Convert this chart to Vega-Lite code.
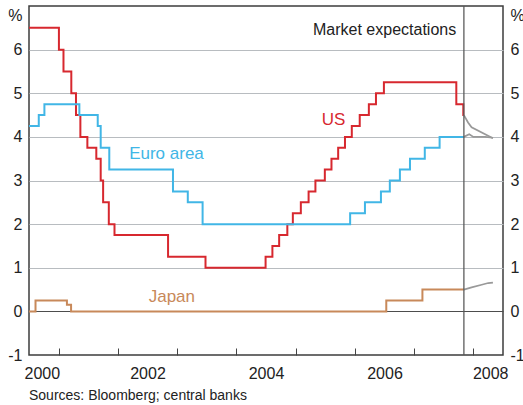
{
  "$schema": "https://vega.github.io/schema/vega-lite/v6.json",
  "width": 474,
  "height": 349,
  "autosize": {"type": "none"},
  "padding": {"left": 29, "top": 6, "right": 20, "bottom": 50},
  "background": "white",
  "config": {"font": "Liberation Sans", "view": {"stroke": "#3d3d3d", "strokeWidth": 1.5}},
  "title": {"text": "Sources: Bloomberg; central banks", "orient": "bottom", "anchor": "start", "frame": "group", "fontSize": 14, "fontWeight": "normal", "color": "#222", "offset": 8},
  "datasets": {
    "rates": [
      {"series": "US", "t": 2000.5, "v": 6.5},
      {"series": "US", "t": 2001.005, "v": 6.0},
      {"series": "US", "t": 2001.082, "v": 5.5},
      {"series": "US", "t": 2001.214, "v": 5.0},
      {"series": "US", "t": 2001.293, "v": 4.5},
      {"series": "US", "t": 2001.367, "v": 4.0},
      {"series": "US", "t": 2001.485, "v": 3.75},
      {"series": "US", "t": 2001.636, "v": 3.5},
      {"series": "US", "t": 2001.71, "v": 3.0},
      {"series": "US", "t": 2001.751, "v": 2.5},
      {"series": "US", "t": 2001.847, "v": 2.0},
      {"series": "US", "t": 2001.943, "v": 1.75},
      {"series": "US", "t": 2002.847, "v": 1.25},
      {"series": "US", "t": 2003.479, "v": 1.0},
      {"series": "US", "t": 2004.493, "v": 1.25},
      {"series": "US", "t": 2004.608, "v": 1.5},
      {"series": "US", "t": 2004.722, "v": 1.75},
      {"series": "US", "t": 2004.86, "v": 2.0},
      {"series": "US", "t": 2004.953, "v": 2.25},
      {"series": "US", "t": 2005.088, "v": 2.5},
      {"series": "US", "t": 2005.219, "v": 2.75},
      {"series": "US", "t": 2005.334, "v": 3.0},
      {"series": "US", "t": 2005.493, "v": 3.25},
      {"series": "US", "t": 2005.605, "v": 3.5},
      {"series": "US", "t": 2005.718, "v": 3.75},
      {"series": "US", "t": 2005.833, "v": 4.0},
      {"series": "US", "t": 2005.948, "v": 4.25},
      {"series": "US", "t": 2006.082, "v": 4.5},
      {"series": "US", "t": 2006.236, "v": 4.75},
      {"series": "US", "t": 2006.356, "v": 5.0},
      {"series": "US", "t": 2006.49, "v": 5.25},
      {"series": "US", "t": 2007.712, "v": 4.75},
      {"series": "US", "t": 2007.83, "v": 4.5},
      {"series": "US", "t": 2007.84, "v": 4.5},
      {"series": "Euro area", "t": 2000.5, "v": 4.25},
      {"series": "Euro area", "t": 2000.665, "v": 4.5},
      {"series": "Euro area", "t": 2000.76, "v": 4.75},
      {"series": "Euro area", "t": 2001.35, "v": 4.5},
      {"series": "Euro area", "t": 2001.66, "v": 4.25},
      {"series": "Euro area", "t": 2001.71, "v": 3.75},
      {"series": "Euro area", "t": 2001.855, "v": 3.25},
      {"series": "Euro area", "t": 2002.93, "v": 2.75},
      {"series": "Euro area", "t": 2003.18, "v": 2.5},
      {"series": "Euro area", "t": 2003.43, "v": 2.0},
      {"series": "Euro area", "t": 2005.92, "v": 2.25},
      {"series": "Euro area", "t": 2006.17, "v": 2.5},
      {"series": "Euro area", "t": 2006.44, "v": 2.75},
      {"series": "Euro area", "t": 2006.59, "v": 3.0},
      {"series": "Euro area", "t": 2006.76, "v": 3.25},
      {"series": "Euro area", "t": 2006.93, "v": 3.5},
      {"series": "Euro area", "t": 2007.18, "v": 3.75},
      {"series": "Euro area", "t": 2007.43, "v": 4.0},
      {"series": "Euro area", "t": 2007.84, "v": 4.0},
      {"series": "Japan", "t": 2000.5, "v": 0.0},
      {"series": "Japan", "t": 2000.61, "v": 0.25},
      {"series": "Japan", "t": 2001.14, "v": 0.15},
      {"series": "Japan", "t": 2001.21, "v": 0.0},
      {"series": "Japan", "t": 2006.53, "v": 0.25},
      {"series": "Japan", "t": 2007.14, "v": 0.5},
      {"series": "Japan", "t": 2007.84, "v": 0.5}
    ],
    "expect": [
      {"series": "US", "t": 2007.84, "v": 4.5},
      {"series": "US", "t": 2007.91, "v": 4.33},
      {"series": "US", "t": 2007.97, "v": 4.22},
      {"series": "US", "t": 2008.33, "v": 3.97},
      {"series": "Euro area", "t": 2007.84, "v": 4.0},
      {"series": "Euro area", "t": 2007.93, "v": 4.06},
      {"series": "Euro area", "t": 2008.0, "v": 4.0},
      {"series": "Euro area", "t": 2008.2, "v": 4.0},
      {"series": "Euro area", "t": 2008.33, "v": 3.98},
      {"series": "Japan", "t": 2007.84, "v": 0.5},
      {"series": "Japan", "t": 2007.97, "v": 0.55},
      {"series": "Japan", "t": 2008.14, "v": 0.61},
      {"series": "Japan", "t": 2008.25, "v": 0.65},
      {"series": "Japan", "t": 2008.33, "v": 0.66}
    ],
    "labels": [
      {"label": "US", "series": "US", "t": 2005.44, "v": 4.39},
      {"label": "Euro area", "series": "Euro area", "t": 2002.19, "v": 3.6},
      {"label": "Japan", "series": "Japan", "t": 2002.52, "v": 0.34}
    ],
    "notes": [{"label": "Market expectations", "t": 2007.71, "v": 6.45}],
    "start": [{"t": 2007.84}]
  },
  "encoding": {
    "x": {
      "field": "t", "type": "quantitative",
      "scale": {"domain": [2000.5, 2008.5], "nice": false, "zero": false},
      "axis": {
        "values": [2000.5, 2001, 2002, 2002.5, 2003, 2004, 2004.5, 2005, 2006, 2006.5, 2007, 2008, 2008.5],
        "title": null, "grid": false, "domain": false,
        "ticks": true, "tickSize": -7, "tickColor": "#444", "tickWidth": 1,
        "tickOpacity": {"condition": {"test": "datum.value % 1 != 0", "value": 0}, "value": 1},
        "labelExpr": "datum.value % 1 != 0 ? '' + floor(datum.value) : ''",
        "labelFlush": true, "labelFlushOffset": 5, "labelOverlap": false, "labelPadding": 17,
        "labelFontSize": 16, "labelColor": "#222"
      }
    }
  },
  "layer": [
    {
      "data": {"name": "rates"},
      "mark": {"type": "line", "interpolate": "step-after", "strokeWidth": 2},
      "encoding": {
        "y": {
          "field": "v", "type": "quantitative",
          "scale": {"domain": [-1, 7], "nice": false, "zero": false},
          "axis": {
            "orient": "left", "values": [-1, 0, 1, 2, 3, 4, 5, 6],
            "labelExpr": "'' + datum.value",
            "grid": true,
            "gridColor": {"condition": {"test": "datum.value === 0", "value": "#4d4d4d"}, "value": "#b8bcc0"},
            "gridOpacity": {"condition": {"test": "datum.value === -1", "value": 0}, "value": 1},
            "gridWidth": 1,
            "domain": false, "ticks": false, "labelPadding": 7,
            "labelFontSize": 16, "labelColor": "#222",
            "title": "%", "titleAngle": 0, "titleAlign": "right", "titleBaseline": "middle",
            "titleX": -7, "titleY": 9, "titleFontSize": 16, "titleFontWeight": "normal", "titleColor": "#222"
          }
        },
        "color": {
          "field": "series", "type": "nominal",
          "scale": {"domain": ["US", "Euro area", "Japan"], "range": ["#d7282f", "#41b6e6", "#c8895a"]},
          "legend": null
        }
      }
    },
    {
      "data": {"name": "expect"},
      "mark": {"type": "line", "strokeWidth": 1.75, "color": "#999999"},
      "encoding": {
        "y": {
          "field": "v", "type": "quantitative",
          "scale": {"domain": [-1, 7], "nice": false, "zero": false},
          "axis": {
            "orient": "right", "values": [-1, 0, 1, 2, 3, 4, 5, 6],
            "labelExpr": "'' + datum.value",
            "grid": false, "domain": false, "ticks": false, "labelPadding": 7,
            "labelFontSize": 16, "labelColor": "#222",
            "title": "%", "titleAngle": 0, "titleAlign": "left", "titleBaseline": "middle",
            "titleX": 7, "titleY": 9, "titleFontSize": 16, "titleFontWeight": "normal", "titleColor": "#222"
          }
        },
        "detail": {"field": "series", "type": "nominal"}
      }
    },
    {
      "data": {"name": "start"},
      "mark": {"type": "rule", "color": "#555555", "strokeWidth": 1.25},
      "encoding": {}
    },
    {
      "data": {"name": "labels"},
      "mark": {"type": "text", "align": "left", "baseline": "middle", "fontSize": 17},
      "encoding": {
        "y": {"field": "v", "type": "quantitative", "scale": {"domain": [-1, 7], "nice": false, "zero": false}, "axis": null},
        "text": {"field": "label"},
        "color": {"field": "series", "type": "nominal", "legend": null}
      }
    },
    {
      "data": {"name": "notes"},
      "mark": {"type": "text", "align": "right", "baseline": "middle", "fontSize": 16, "color": "#222"},
      "encoding": {
        "y": {"field": "v", "type": "quantitative", "scale": {"domain": [-1, 7], "nice": false, "zero": false}, "axis": null},
        "text": {"field": "label"}
      }
    }
  ],
  "resolve": {"axis": {"y": "independent"}}
}
